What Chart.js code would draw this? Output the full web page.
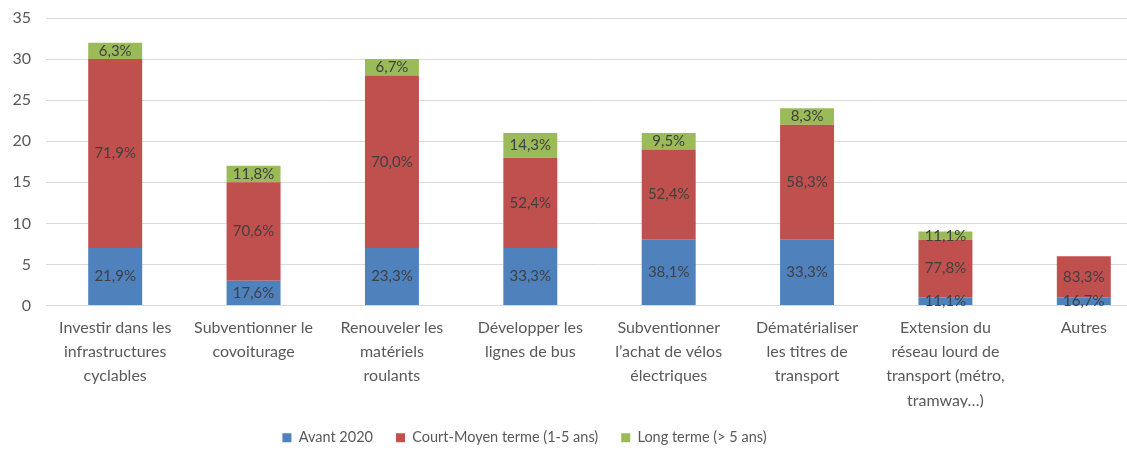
<!DOCTYPE html>
<html lang="fr">
<head>
<meta charset="utf-8">
<title>Mesures de mobilité — horizon de mise en oeuvre</title>
<script src="https://cdn.jsdelivr.net/npm/chart.js@4/dist/chart.umd.min.js"></script>
<style>
  html, body { margin: 0; padding: 0; background: #fff; overflow: hidden; }
  #wrap { position: relative; width: 1153px; height: 455px; }
</style>
</head>
<body>
<div id="wrap"><canvas id="chart"></canvas></div>
<script>
// categories (already wrapped the way the original shows them)
const categories = [
  ['Investir dans les', 'infrastructures', 'cyclables'],
  ['Subventionner le', 'covoiturage'],
  ['Renouveler les', 'matériels', 'roulants'],
  ['Développer les', 'lignes de bus'],
  ['Subventionner', 'l\u2019achat de vélos', 'électriques'],
  ['Dématérialiser', 'les titres de', 'transport'],
  ['Extension du', 'réseau lourd de', 'transport (métro,', 'tramway\u2026)'],
  ['Autres'],
];

// counts per horizon
const avant2020   = [7, 3, 7, 7, 8, 8, 1, 1];
const courtMoyen  = [23, 12, 21, 11, 11, 14, 7, 5];
const longTerme   = [2, 2, 2, 3, 2, 2, 1, 0];

// share labels printed inside each segment
const avantLabels = ['21,9%', '17,6%', '23,3%', '33,3%', '38,1%', '33,3%', '11,1%', '16,7%'];
const courtLabels = ['71,9%', '70,6%', '70,0%', '52,4%', '52,4%', '58,3%', '77,8%', '83,3%'];
const longLabels  = ['6,3%', '11,8%', '6,7%', '14,3%', '9,5%', '8,3%', '11,1%', ''];

const yTicks = [0, 5, 10, 15, 20, 25, 30, 35];

const FONT = 'Lato, "Open Sans", sans-serif';

// draws the % text centred in each stacked segment
const segmentLabels = {
  id: 'segmentLabels',
  afterDatasetsDraw(chart){
    const ctx = chart.ctx;
    ctx.save();
    ctx.font = '15px ' + FONT;
    ctx.fillStyle = '#404040';
    ctx.textAlign = 'center';
    ctx.textBaseline = 'middle';
    chart.data.datasets.forEach((ds, i) => {
      const meta = chart.getDatasetMeta(i);
      meta.data.forEach((bar, j) => {
        const txt = ds.pctLabels[j];
        if (!txt) return;
        ctx.fillText(txt, bar.x, (bar.y + bar.base) / 2);
      });
    });
    ctx.restore();
  }
};

// legend sits a bit left of canvas centre in the original
const legendShift = {
  id: 'legendShift',
  afterLayout(chart){
    const lg = chart.legend;
    if (!lg) return;
    lg.left -= 52;
    lg.right -= 52;
  }
};

new Chart(document.getElementById('chart'), {
  type: 'bar',
  data: {
    labels: categories,
    datasets: [
      { label: 'Avant 2020', data: avant2020, pctLabels: avantLabels, backgroundColor: '#4F81BD' },
      { label: 'Court-Moyen terme (1-5 ans)', data: courtMoyen, pctLabels: courtLabels, backgroundColor: '#C0504D' },
      { label: 'Long terme (> 5 ans)', data: longTerme, pctLabels: longLabels, backgroundColor: '#9BBB59' },
    ],
  },
  plugins: [segmentLabels, legendShift],
  options: {
    responsive: true,
    maintainAspectRatio: false,
    animation: false,
    layout: { padding: { top: 18, right: 0, bottom: 0, left: 0 } },
    datasets: { bar: { barPercentage: 0.39, categoryPercentage: 1 } },
    plugins: {
      legend: {
        position: 'bottom',
        labels: {
          boxWidth: 9, boxHeight: 9, padding: 23,
          color: '#595959',
          font: { family: FONT, size: 14.5 },
        },
      },
      tooltip: { enabled: false },
    },
    scales: {
      x: {
        stacked: true,
        grid: { display: false },
        border: { color: '#d9d9d9' },
        ticks: {
          color: '#595959', maxRotation: 0, autoSkip: false, padding: 2,
          font: { family: FONT, size: 16, lineHeight: 1.52 },
        },
        afterFit(scale){ scale.height = 102; },
      },
      y: {
        stacked: true,
        min: 0, max: 35,
        afterBuildTicks(scale){ scale.ticks = yTicks.map(v => ({ value: v })); },
        grid: { color: '#d9d9d9', drawTicks: false },
        border: { display: false },
        ticks: { color: '#595959', padding: 15, font: { family: FONT, size: 16 } },
        afterFit(scale){ scale.width = 46; scale.paddingTop = 0; scale.paddingBottom = 0; },
      },
    },
  },
});
</script>
</body>
</html>
